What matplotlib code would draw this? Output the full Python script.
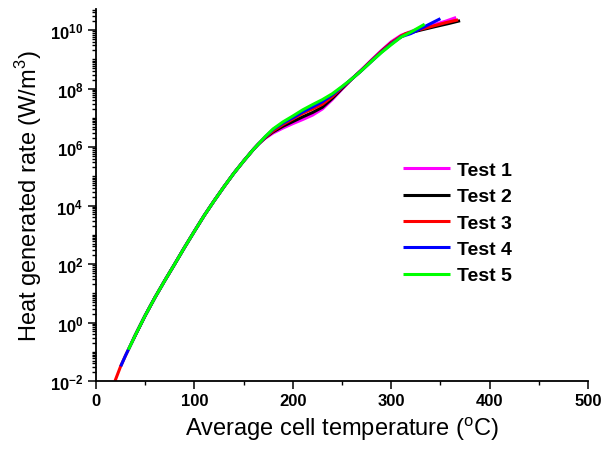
import numpy as np
import matplotlib.pyplot as plt
from matplotlib.ticker import LogLocator, FuncFormatter, MultipleLocator, NullFormatter

plt.rcParams['font.family'] = ['Liberation Sans', 'DejaVu Sans']
plt.rcParams['mathtext.fontset'] = 'custom'
plt.rcParams['mathtext.rm'] = 'Liberation Sans'
plt.rcParams['mathtext.bf'] = 'Liberation Sans:bold'

# temperatures (C) and log10 of heat generation rate (W/m3)
common_T = [40, 50, 60, 70, 80, 90, 100, 110, 120, 130, 140, 150, 160, 165]
common_logq = [-0.43, 0.24, 0.86, 1.44, 2.0, 2.57, 3.12, 3.66, 4.16, 4.64, 5.1, 5.52, 5.92, 6.1]

test1_T = [36] + common_T + [172, 180, 190, 200, 210, 220, 230, 240, 250, 260, 270, 280, 290, 300, 310, 320, 330, 345, 355, 366]
test1_logq = [-0.71] + common_logq + [6.3, 6.48, 6.65, 6.8, 6.94, 7.09, 7.3, 7.62, 7.98, 8.33, 8.65, 8.98, 9.3, 9.6, 9.82, 9.95, 10.06, 10.2, 10.3, 10.43]

test2_T = [38] + common_T + [172, 180, 190, 200, 210, 220, 230, 240, 250, 260, 270, 280, 290, 300, 315, 330, 345, 358, 370]
test2_logq = [-0.57] + common_logq + [6.32, 6.52, 6.71, 6.87, 7.03, 7.18, 7.36, 7.66, 8.0, 8.33, 8.63, 8.95, 9.27, 9.56, 9.87, 10.0, 10.12, 10.22, 10.32]

test3_T = [19.3, 25, 30, 35] + common_T + [172, 180, 190, 200, 210, 220, 230, 240, 250, 260, 270, 280, 290, 300, 310, 315, 325, 335, 345, 355, 368]
test3_logq = [-2.0, -1.5, -1.13, -0.78] + common_logq + [6.33, 6.55, 6.77, 6.96, 7.15, 7.3, 7.46, 7.72, 8.03, 8.33, 8.63, 8.95, 9.27, 9.56, 9.8, 9.88, 9.98, 10.07, 10.16, 10.25, 10.35]

test4_T = [25.1, 30, 35] + common_T + [172, 180, 190, 200, 210, 220, 230, 240, 250, 260, 270, 280, 290, 300, 310, 320, 330, 340, 350]
test4_logq = [-1.5, -1.13, -0.78] + common_logq + [6.35, 6.6, 6.82, 7.0, 7.2, 7.37, 7.55, 7.78, 8.05, 8.33, 8.62, 8.93, 9.24, 9.52, 9.77, 9.88, 10.05, 10.22, 10.39]

test5_T = [32.8, 35] + common_T + [172, 180, 190, 200, 210, 220, 230, 240, 250, 260, 270, 280, 290, 300, 310, 320, 334]
test5_logq = [-0.93, -0.78] + common_logq + [6.36, 6.62, 6.86, 7.06, 7.27, 7.45, 7.62, 7.82, 8.07, 8.33, 8.62, 8.93, 9.23, 9.5, 9.76, 9.93, 10.2]

labels = ['Test 1', 'Test 2', 'Test 3', 'Test 4', 'Test 5']
colors = ['#ff00ff', '#000000', '#ff0000', '#0000ff', '#00ff00']

fig = plt.figure(figsize=(6.05, 4.52), dpi=100)
ax = fig.add_axes([96/605, 70/452, 492/605, 372/452])

series = [(test1_T, test1_logq), (test2_T, test2_logq), (test3_T, test3_logq),
          (test4_T, test4_logq), (test5_T, test5_logq)]
for (T, lq), lab, c in zip(series, labels, colors):
    ax.plot(T, 10.0 ** np.array(lq), color=c, lw=2.2, label=lab, solid_capstyle='butt')

ax.set_yscale('log')
ax.set_xlim(0, 500)
ax.set_ylim(1e-2, 10 ** 10.72)

ax.xaxis.set_major_locator(MultipleLocator(100))
ax.xaxis.set_minor_locator(MultipleLocator(50))
ax.yaxis.set_major_locator(LogLocator(base=100))
ax.yaxis.set_minor_locator(LogLocator(base=10, subs=np.arange(1, 10), numticks=50))
ax.yaxis.set_minor_formatter(NullFormatter())
ax.yaxis.set_major_formatter(FuncFormatter(lambda v, p: r'$\mathbf{10^{%d}}$' % round(np.log10(v))))

for lab in ax.get_xticklabels():
    lab.set_fontweight('bold')
ax.tick_params(which='major', direction='out', length=5.5, width=1.1, labelsize=12)
ax.tick_params(which='minor', direction='out', length=3, width=1.0)

for s in ['top', 'right']:
    ax.spines[s].set_visible(False)
for s in ['left', 'bottom']:
    ax.spines[s].set_linewidth(1.3)

ax.set_xlabel(r'Average cell temperature ($^\mathregular{o}$C)', fontsize=17)
ax.set_ylabel(r'Heat generated rate (W/m$^\mathregular{3}$)', fontsize=17)

leg = ax.legend(loc='center left', bbox_to_anchor=(0.624, 0.425), frameon=False,
                borderpad=0, borderaxespad=0, handlelength=2.4, handletextpad=0.4,
                labelspacing=0.45, prop={'weight': 'bold', 'size': 14})

fig.savefig('out.png', dpi=100)
